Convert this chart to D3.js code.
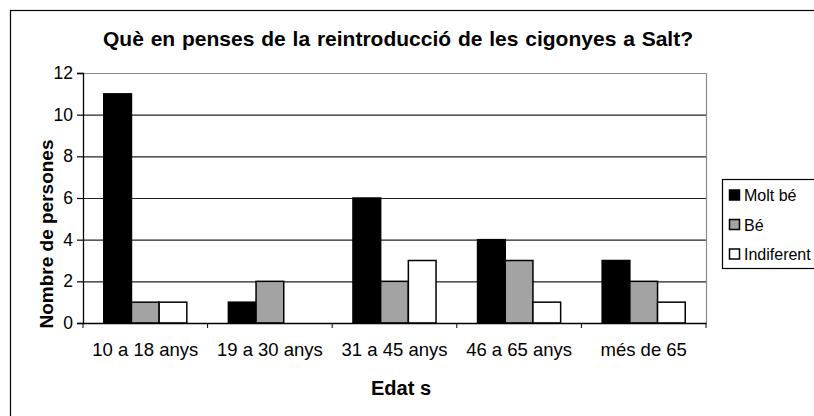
<!DOCTYPE html>
<html><head><meta charset="utf-8">
<script src="https://cdn.jsdelivr.net/npm/d3@7"></script>
<style>body{margin:0;background:#fff}svg{display:block;font-family:"Liberation Sans",Arial,sans-serif}</style>
</head><body><svg id="c" width="814" height="416"></svg>
<script>
const categories = ["10 a 18 anys","19 a 30 anys","31 a 45 anys","46 a 65 anys","més de 65"];
const seriesNames = ["Molt bé","Bé","Indiferent"];
const molt = [11,1,6,4,3];
const be = [1,2,2,3,2];
const indiferent = [1,0,3,1,1];
const yTicks = [0,2,4,6,8,10,12];
const colors = ["#000000","#a3a3a3","#ffffff"];
const series = [molt, be, indiferent];

const svg = d3.select("#c");
svg.append("rect").attr("x",10.5).attr("y",10.5).attr("width",820).attr("height",420)
  .attr("fill","#fff").attr("stroke","#000").attr("stroke-width",1.2);

const m = {l:83, r:706, t:73, b:323};
const x = d3.scaleBand().domain(categories).range([m.l,m.r]);
const y = d3.scaleLinear().domain([0,12]).range([m.b,m.t]);
const bw = x.bandwidth()/4.5;

svg.append("g").selectAll("line").data(yTicks.filter(d=>d>0 && d<12)).join("line")
  .attr("x1",m.l).attr("x2",m.r).attr("y1",d=>y(d)+0.5).attr("y2",d=>y(d)+0.5)
  .attr("stroke","#222").attr("stroke-width",1.2);
svg.append("path").attr("d",`M${m.l},${m.t+0.5}H${m.r+0.5}V${m.b}`).attr("fill","none")
  .attr("stroke","#8a8a8a").attr("stroke-width",1.2);

series.forEach((s,i)=>{
  svg.append("g").selectAll("rect").data(s.map((v,j)=>({v,c:categories[j]}))).join("rect")
    .attr("x",d=>x(d.c)+0.75*bw+i*bw).attr("width",bw)
    .attr("y",d=>y(d.v)).attr("height",d=>y(0)-y(d.v))
    .attr("fill",colors[i]).attr("stroke","#000").attr("stroke-width",d=>d.v>0?1.5:0);
});

const ya = svg.append("g").attr("transform",`translate(${m.l},0)`)
  .call(d3.axisLeft(y).tickValues(yTicks).tickSize(6).tickPadding(4));
ya.select(".domain").attr("stroke","#000").attr("stroke-width",1.3);
ya.selectAll(".tick line").attr("stroke","#000").attr("stroke-width",1.2);
ya.selectAll("text").attr("font-size",17.5).attr("fill","#000").attr("font-family","Liberation Sans, Arial");

const xa = svg.append("g").attr("transform",`translate(0,${m.b})`)
  .call(d3.axisBottom(x).tickSize(0).tickPadding(20));
xa.select(".domain").attr("stroke","#000").attr("stroke-width",1.5);
xa.selectAll("text").attr("font-size",18.5).attr("fill","#000").attr("font-family","Liberation Sans, Arial");
const bounds = categories.map(c=>x(c)).concat([m.r]);
svg.append("g").selectAll("line").data(bounds).join("line")
  .attr("x1",d=>d).attr("x2",d=>d).attr("y1",m.b).attr("y2",m.b+5)
  .attr("stroke","#000").attr("stroke-width",1);

svg.append("text").attr("x",398).attr("y",46).attr("text-anchor","middle")
  .attr("font-size",21).attr("font-weight","bold").attr("word-spacing",1)
  .text("Què en penses de  la reintroducció de les cigonyes a Salt?");
svg.append("text").attr("x",401).attr("y",395).attr("text-anchor","middle")
  .attr("font-size",20).attr("font-weight","bold").text("Edat s").style("white-space","pre");
svg.append("text").attr("transform","translate(53,234) rotate(-90)").attr("text-anchor","middle")
  .attr("font-size",19).attr("font-weight","bold").text("Nombre de persones");

const lg = svg.append("g");
lg.append("rect").attr("x",722.5).attr("y",179.5).attr("width",120).attr("height",89)
  .attr("fill","#fff").attr("stroke","#000").attr("stroke-width",1.2);
seriesNames.forEach((n,i)=>{
  const cy = 195 + i*29.5;
  lg.append("rect").attr("x",729.5).attr("y",cy-5).attr("width",10).attr("height",10)
    .attr("fill",colors[i]).attr("stroke","#000").attr("stroke-width",1.5);
  lg.append("text").attr("x",744).attr("y",cy+6).attr("font-size",16).text(n);
});
</script></body></html>
